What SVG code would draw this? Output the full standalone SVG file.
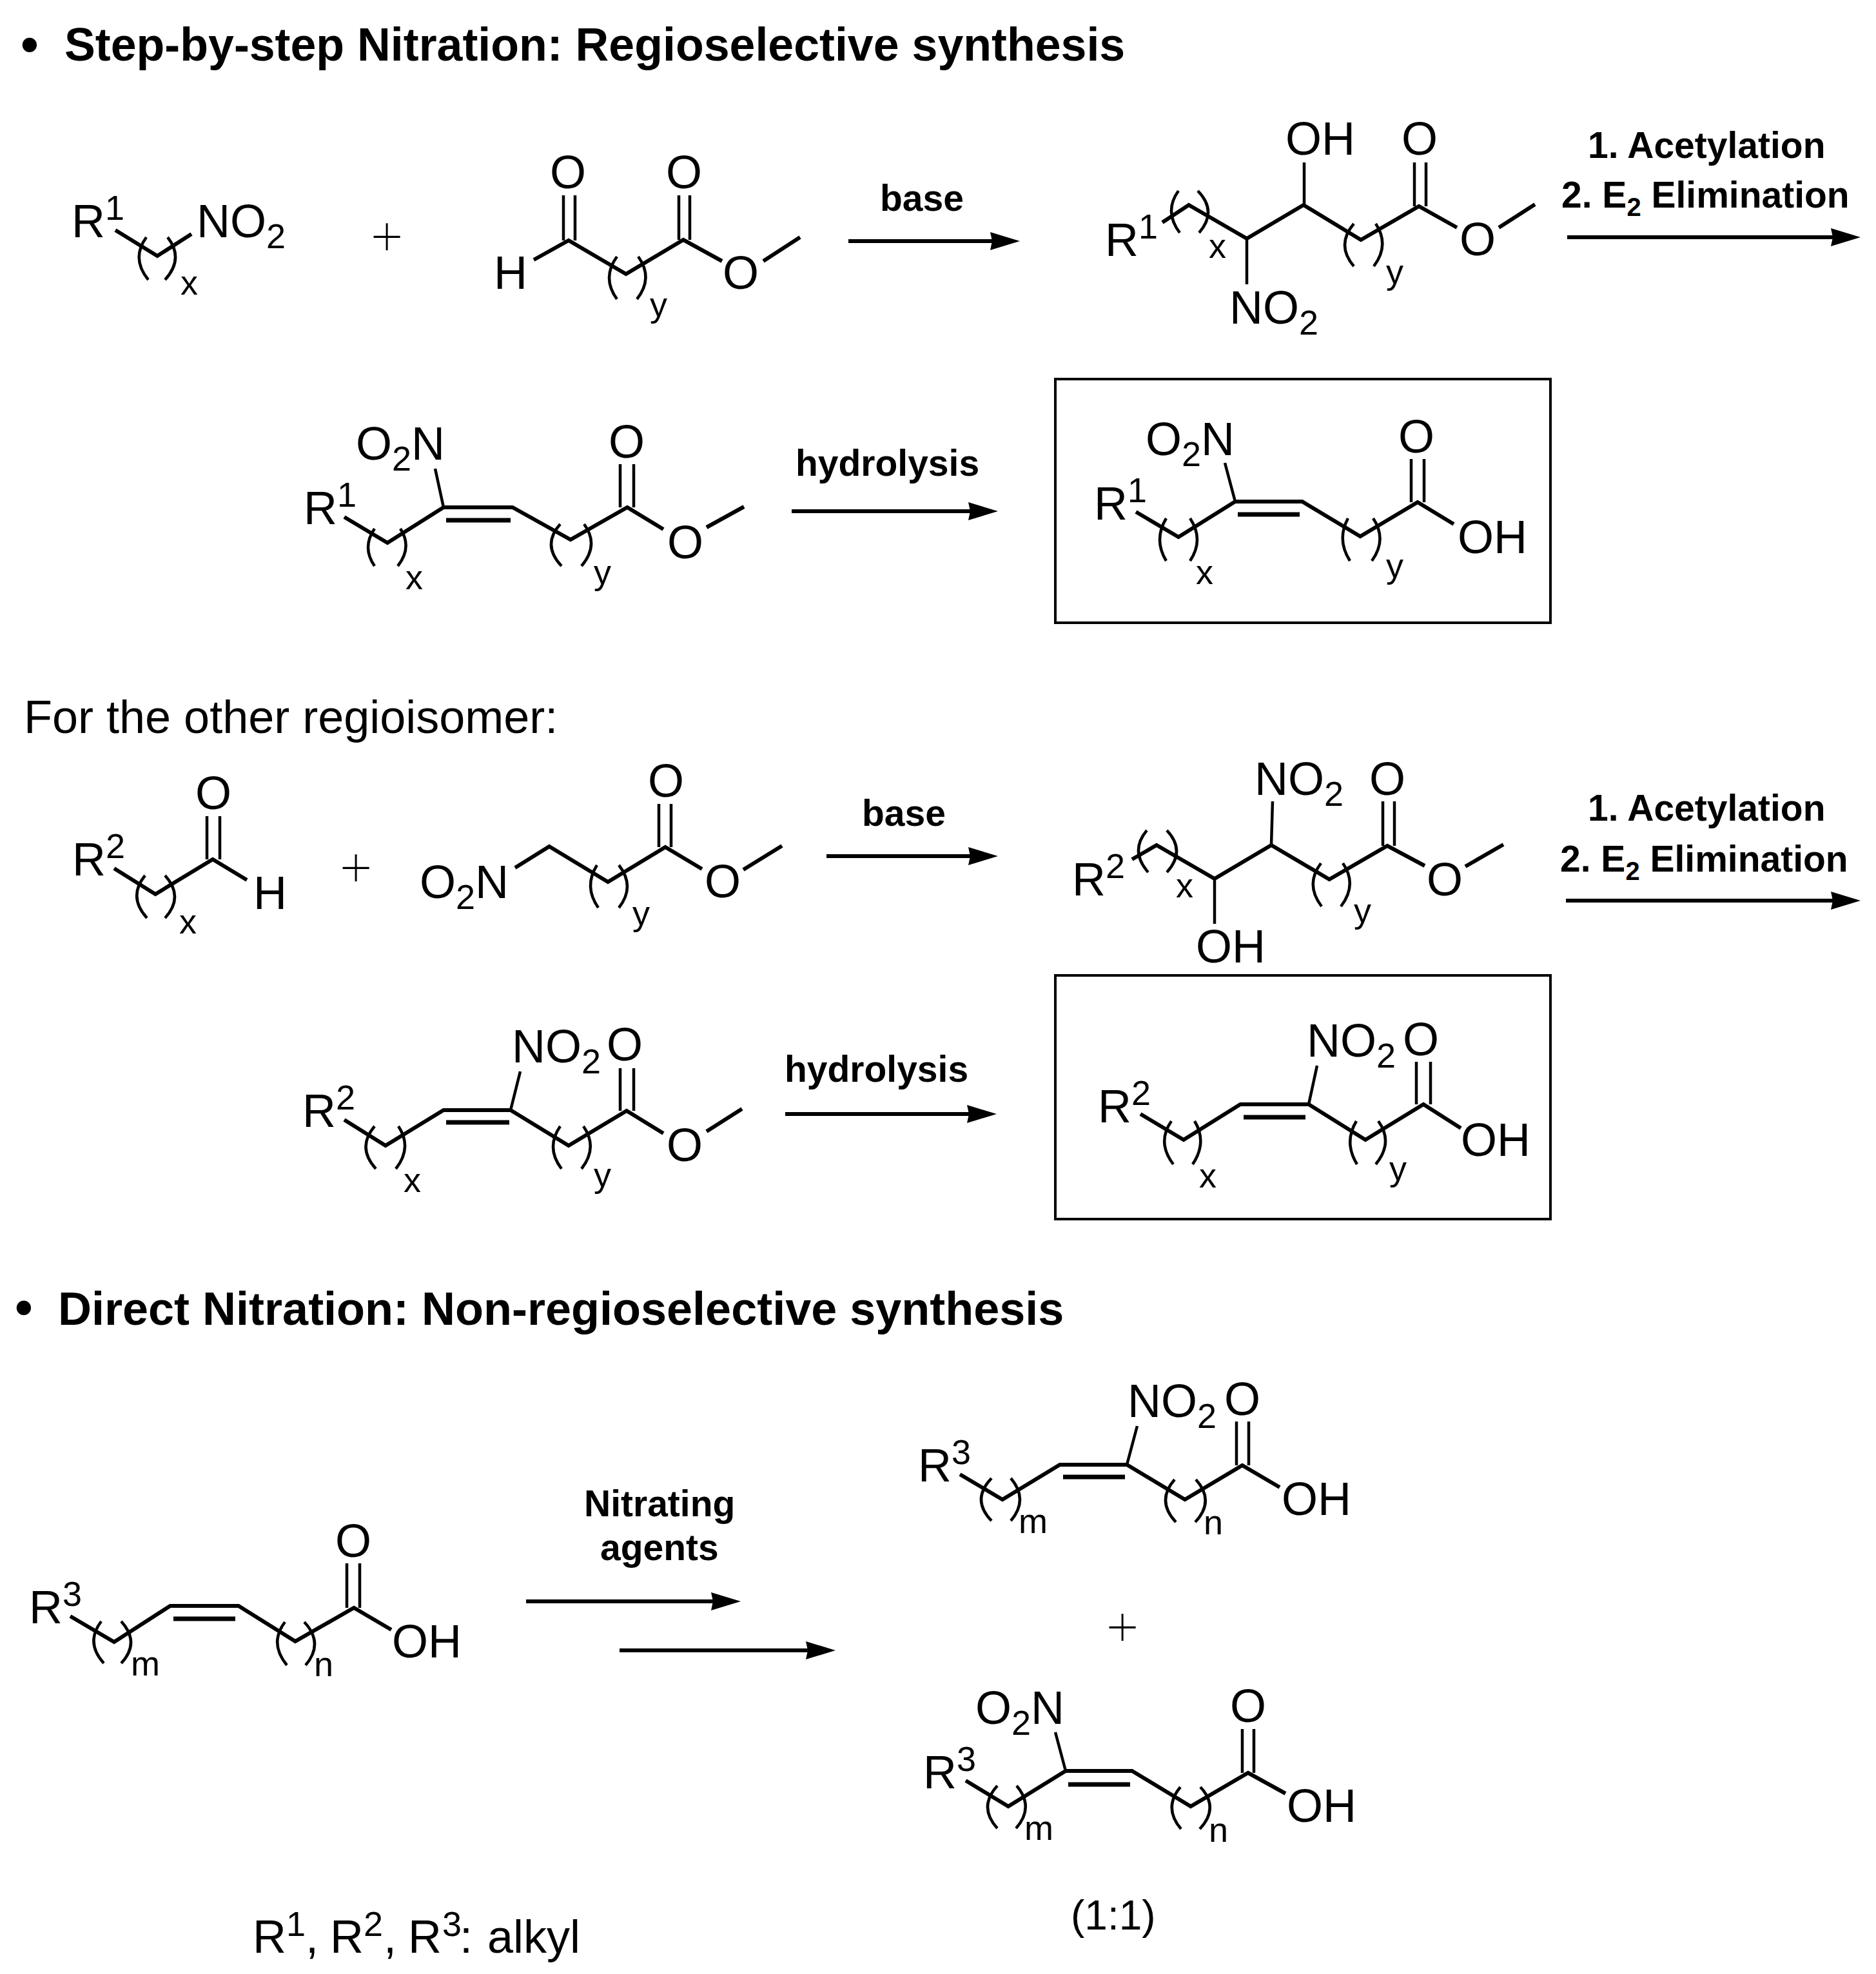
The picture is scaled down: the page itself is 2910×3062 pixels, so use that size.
<svg xmlns="http://www.w3.org/2000/svg" width="2910" height="3062" viewBox="0 0 2910 3062">
<style>
text{font-family:"Liberation Sans",Arial,sans-serif;fill:#000}
.a{font-size:72px}
.l{font-size:57px;font-weight:700}
.h{font-size:71.7px;font-weight:700}
.bu{font-size:78px;font-weight:700}
.s{font-size:54px}
.ls{font-size:40px}
.pl{font-size:92px;stroke:#fff;stroke-width:3.5px}
.b{fill:none;stroke:#000;stroke-width:6;stroke-linejoin:miter}
.d{fill:none;stroke:#000;stroke-width:4.5}
.i{fill:none;stroke:#000;stroke-width:7}
.p{fill:none;stroke:#000;stroke-width:4.5}
.c{fill:none;stroke:#000;stroke-width:6}
.box{fill:none;stroke:#000;stroke-width:4}
</style>
<defs>
<marker id="ah" markerUnits="userSpaceOnUse" markerWidth="48" markerHeight="30" viewBox="0 0 48 30" refX="36" refY="15" orient="auto"><path d="M1,1 L47,15 L1,29 L4,15 Z" fill="#000"/></marker>
</defs>
<rect width="2910" height="3062" fill="#fff"/>
<g id="headings">
<text class="bu" x="46" y="96" text-anchor="middle">•</text>
<text class="h" x="100" y="94">Step-by-step Nitration: Regioselective synthesis</text>
<text class="a" x="37" y="1137">For the other regioisomer:</text>
<text class="bu" x="37" y="2055" text-anchor="middle">•</text>
<text class="h" x="90" y="2055" style="font-size:72px">Direct Nitration: Non-regioselective synthesis</text>
<text class="a" x="392" y="3029">R<tspan class="s" x="444" dy="-26">1</tspan><tspan x="474" dy="26">, </tspan><tspan x="512">R</tspan><tspan class="s" x="564" dy="-26">2</tspan><tspan x="595" dy="26">, </tspan><tspan x="633">R</tspan><tspan class="s" x="686" dy="-26">3</tspan><tspan x="713" dy="26">: </tspan><tspan x="756">alkyl</tspan></text>
<text class="a" x="1661" y="2993" style="font-size:64px">(1:1)</text>
</g>
<g id="connectors">
<path class="c" marker-end="url(#ah)" d="M1316,374H1571"/>
<path class="c" marker-end="url(#ah)" d="M2431,368H2875"/>
<path class="c" marker-end="url(#ah)" d="M1228,793H1537"/>
<path class="c" marker-end="url(#ah)" d="M1282,1328H1537"/>
<path class="c" marker-end="url(#ah)" d="M2429,1397H2875"/>
<path class="c" marker-end="url(#ah)" d="M1218,1728H1535"/>
<path class="c" marker-end="url(#ah)" d="M816,2484H1138"/>
<path class="c" marker-end="url(#ah)" d="M961,2560H1285"/>
</g>
<g id="arrow-labels">
<text class="l" x="1365" y="327">base</text>
<text class="l" x="2463" y="245">1. Acetylation</text>
<text class="l" x="2422" y="322">2. E<tspan class="ls" dy="13">2</tspan><tspan dy="-13"> Elimination</tspan></text>
<text class="l" x="1234" y="738">hydrolysis</text>
<text class="l" x="1337" y="1281">base</text>
<text class="l" x="2463" y="1273">1. Acetylation</text>
<text class="l" x="2420" y="1352">2. E<tspan class="ls" dy="13">2</tspan><tspan dy="-13"> Elimination</tspan></text>
<text class="l" x="1217" y="1678">hydrolysis</text>
<text class="l" x="906" y="2352">Nitrating</text>
<text class="l" x="931" y="2420">agents</text>
</g>
<g id="plus-signs">
<text class="pl" x="600" y="398" text-anchor="middle">+</text>
<text class="pl" x="552" y="1377" text-anchor="middle">+</text>
<text class="pl" x="1741" y="2555" text-anchor="middle">+</text>
</g>
<g id="box-1"><rect class="box" x="1637" y="588" width="768" height="378"/></g>
<g id="box-2"><rect class="box" x="1637" y="1513" width="768" height="378"/></g>

<g id="mol-a">
<path class="b" d="M179,357L244,397L297,363"/>
<path class="p" d="M227,368Q203,401 230,434M260,368Q286,401 256,434"/>
<text class="a" x="111" y="368">R<tspan class="s" dy="-27">1</tspan></text>
<text class="a" x="305" y="368">NO<tspan class="s" dy="17">2</tspan></text>
<text class="s" x="280" y="457">x</text>
</g>
<g id="mol-b">
<path class="b" d="M828,403L882,373L971,425L1060,372L1120,405M1184,405L1241,368"/>
<path class="d" d="M874,303V373M892,303V373M1053,303V372M1070,303V372"/>
<path class="p" d="M957,398Q933,431 957,464M990,398Q1014,431 988,464"/>
<text class="a" x="853" y="292">O</text>
<text class="a" x="1033" y="292">O</text>
<text class="a" x="766" y="448">H</text>
<text class="a" x="1121" y="448">O</text>
<text class="s" x="1008" y="491">y</text>
</g>
<g id="mol-c">
<path class="b" d="M1803,345L1844,318L1934,370L2022,318L2111,372L2201,320L2260,353M2325,353L2381,317"/>
<path class="d" d="M2023,252V318M1934,370V441M2194,252V320M2212,252V320"/>
<path class="p" d="M1828,296Q1805,328 1830,361M1858,296Q1889,328 1860,361M2100,347Q2072,380 2100,413M2134,347Q2156,380 2131,413"/>
<text class="a" x="1714" y="397">R<tspan class="s" dy="-27">1</tspan></text>
<text class="a" x="1994" y="240">OH</text>
<text class="a" x="2174" y="240">O</text>
<text class="a" x="2264" y="396">O</text>
<text class="a" x="1907" y="502">NO<tspan class="s" dy="17">2</tspan></text>
<text class="s" x="1875" y="400">x</text>
<text class="s" x="2150" y="440">y</text>
</g>
<g id="mol-d">
<path class="b" d="M534,802L601,842L688,787H795L885,837L973,787L1029,821M1096,818L1154,786"/>
<path class="i" d="M692,807H792"/>
<path class="d" d="M675,727L688,787M962,720V787M983,720V787"/>
<path class="p" d="M581,820Q561,849 581,878M621,820Q640,849 617,878M869,813Q840,845 871,878M906,813Q930,845 902,878"/>
<text class="a" x="471" y="813">R<tspan class="s" dy="-27">1</tspan></text>
<text class="a" x="552" y="713">O<tspan class="s" dy="17">2</tspan><tspan dy="-17">N</tspan></text>
<text class="a" x="944" y="710">O</text>
<text class="a" x="1035" y="866">O</text>
<text class="s" x="629" y="914">x</text>
<text class="s" x="921" y="906">y</text>
</g>
<g id="mol-e">
<path class="b" d="M1762,794L1828,833L1916,778H2020L2110,832L2199,779L2255,813"/>
<path class="i" d="M1920,798H2016"/>
<path class="d" d="M1900,718L1916,778M2189,712V779M2209,712V779"/>
<path class="p" d="M1809,804Q1789,837 1809,870M1846,804Q1868,837 1846,870M2091,804Q2073,837 2094,870M2130,804Q2152,837 2128,870"/>
<text class="a" x="1697" y="806">R<tspan class="s" dy="-27">1</tspan></text>
<text class="a" x="1777" y="706">O<tspan class="s" dy="17">2</tspan><tspan dy="-17">N</tspan></text>
<text class="a" x="2169" y="702">O</text>
<text class="a" x="2261" y="858">OH</text>
<text class="s" x="1855" y="906">x</text>
<text class="s" x="2150" y="896">y</text>
</g>
<g id="mol-f">
<path class="b" d="M177,1347L241,1387L330,1333L383,1365"/>
<path class="d" d="M321,1266V1333M341,1266V1333"/>
<path class="p" d="M225,1358Q198,1391 228,1424M256,1358Q286,1391 256,1424"/>
<text class="a" x="112" y="1358">R<tspan class="s" dy="-27">2</tspan></text>
<text class="a" x="303" y="1255">O</text>
<text class="a" x="393" y="1410">H</text>
<text class="s" x="278" y="1448">x</text>
</g>
<g id="mol-g">
<path class="b" d="M799,1346L852,1313L943,1368L1032,1314L1089,1348M1153,1349L1213,1312"/>
<path class="d" d="M1022,1247V1314M1041,1247V1314"/>
<path class="p" d="M926,1342Q905,1375 928,1408M960,1342Q986,1375 960,1408"/>
<text class="a" x="651" y="1393">O<tspan class="s" dy="17">2</tspan><tspan dy="-17">N</tspan></text>
<text class="a" x="1005" y="1236">O</text>
<text class="a" x="1093" y="1392">O</text>
<text class="s" x="981" y="1435">y</text>
</g>
<g id="mol-h">
<path class="b" d="M1756,1333L1794,1311L1884,1363L1972,1311L2062,1364L2152,1312L2210,1343M2273,1344L2332,1310"/>
<path class="d" d="M1974,1243L1972,1311M1884,1363V1433M2145,1243V1312M2163,1243V1312"/>
<path class="p" d="M1779,1288Q1752,1320 1781,1353M1810,1288Q1840,1320 1810,1353M2049,1339Q2024,1372 2050,1406M2083,1339Q2106,1372 2080,1406"/>
<text class="a" x="1663" y="1389">R<tspan class="s" dy="-27">2</tspan></text>
<text class="a" x="1946" y="1233">NO<tspan class="s" dy="17">2</tspan></text>
<text class="a" x="2124" y="1233">O</text>
<text class="a" x="2213" y="1389">O</text>
<text class="a" x="1855" y="1493">OH</text>
<text class="s" x="1824" y="1392">x</text>
<text class="s" x="2100" y="1431">y</text>
</g>
<g id="mol-i">
<path class="b" d="M534,1737L598,1777L688,1722H792L882,1777L972,1723L1029,1758M1096,1755L1151,1720"/>
<path class="i" d="M692,1741H790"/>
<path class="d" d="M807,1662L792,1722M962,1657V1723M983,1657V1723"/>
<path class="p" d="M581,1747Q553,1780 583,1813M618,1747Q640,1780 614,1813M869,1747Q846,1780 871,1813M905,1747Q928,1780 902,1813"/>
<text class="a" x="469" y="1748">R<tspan class="s" dy="-27">2</tspan></text>
<text class="a" x="794" y="1648">NO<tspan class="s" dy="17">2</tspan></text>
<text class="a" x="941" y="1645">O</text>
<text class="a" x="1034" y="1801">O</text>
<text class="s" x="626" y="1849">x</text>
<text class="s" x="921" y="1841">y</text>
</g>
<g id="mol-j">
<path class="b" d="M1769,1728L1836,1768L1924,1713H2030L2118,1768L2208,1713L2266,1750"/>
<path class="i" d="M1929,1733H2025"/>
<path class="d" d="M2043,1653L2030,1713M2197,1647V1713M2219,1647V1713"/>
<path class="p" d="M1817,1739Q1794,1772 1820,1806M1853,1739Q1873,1772 1850,1806M2104,1739Q2084,1772 2105,1806M2138,1739Q2162,1772 2134,1806"/>
<text class="a" x="1703" y="1741">R<tspan class="s" dy="-27">2</tspan></text>
<text class="a" x="2027" y="1639">NO<tspan class="s" dy="17">2</tspan></text>
<text class="a" x="2176" y="1637">O</text>
<text class="a" x="2266" y="1793">OH</text>
<text class="s" x="1860" y="1842">x</text>
<text class="s" x="2155" y="1831">y</text>
</g>
<g id="mol-k">
<path class="b" d="M109,2507L177,2547L264,2491H370L458,2546L549,2494L607,2528"/>
<path class="i" d="M269,2511H365"/>
<path class="d" d="M538,2425V2494M558,2425V2494"/>
<path class="p" d="M157,2515Q132,2548 161,2580M188,2515Q218,2548 188,2580M442,2516Q417,2549 445,2583M472,2516Q503,2549 474,2583"/>
<text class="a" x="45" y="2518">R<tspan class="s" dy="-27">3</tspan></text>
<text class="a" x="520" y="2415">O</text>
<text class="a" x="608" y="2571">OH</text>
<text class="s" x="203" y="2599">m</text>
<text class="s" x="487" y="2600">n</text>
</g>
<g id="mol-l">
<path class="b" d="M1489,2287L1555,2326L1644,2272H1748L1838,2326L1927,2273L1985,2307"/>
<path class="i" d="M1649,2291H1745"/>
<path class="d" d="M1764,2212L1748,2272M1918,2205V2273M1937,2205V2273"/>
<path class="p" d="M1538,2293Q1506,2326 1538,2359M1568,2293Q1596,2326 1568,2359M1822,2295Q1793,2328 1824,2361M1855,2295Q1885,2328 1854,2361"/>
<text class="a" x="1424" y="2298">R<tspan class="s" dy="-27">3</tspan></text>
<text class="a" x="1749" y="2198">NO<tspan class="s" dy="17">2</tspan></text>
<text class="a" x="1899" y="2195">O</text>
<text class="a" x="1988" y="2350">OH</text>
<text class="s" x="1580" y="2378">m</text>
<text class="s" x="1867" y="2380">n</text>
</g>
<g id="mol-m">
<path class="b" d="M1498,2762L1564,2802L1653,2747H1756L1847,2802L1936,2750L1994,2782"/>
<path class="i" d="M1657,2768H1753"/>
<path class="d" d="M1637,2687L1653,2747M1927,2682V2750M1945,2682V2750"/>
<path class="p" d="M1547,2770Q1517,2803 1547,2836M1577,2770Q1605,2803 1576,2836M1831,2772Q1804,2804 1832,2837M1862,2772Q1892,2804 1861,2837"/>
<text class="a" x="1432" y="2774">R<tspan class="s" dy="-27">3</tspan></text>
<text class="a" x="1513" y="2674">O<tspan class="s" dy="17">2</tspan><tspan dy="-17">N</tspan></text>
<text class="a" x="1908" y="2671">O</text>
<text class="a" x="1996" y="2826">OH</text>
<text class="s" x="1589" y="2854">m</text>
<text class="s" x="1875" y="2857">n</text>
</g>
</svg>
